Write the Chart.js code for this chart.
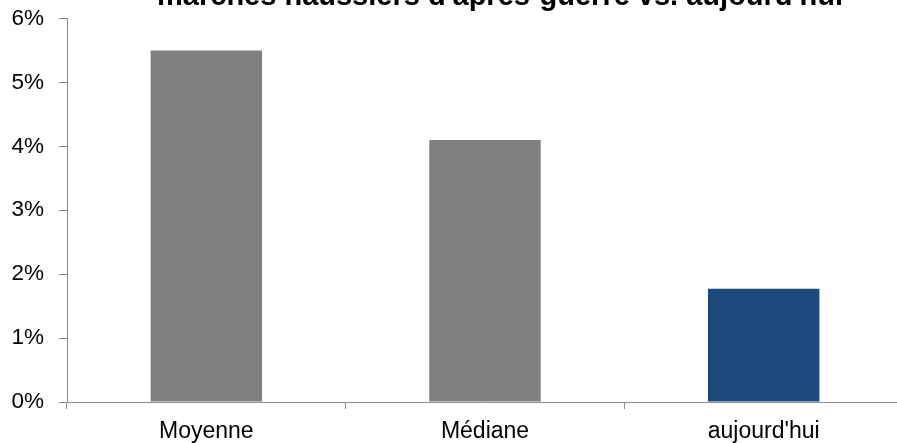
<!DOCTYPE html>
<html>
<head>
<meta charset="utf-8">
<script src="https://cdn.jsdelivr.net/npm/chart.js@4.4.0/dist/chart.umd.min.js"></script>
<style>
body{margin:0;overflow:hidden;background:#fff}
#c{position:absolute;left:0;top:-10px}
</style>
</head>
<body>
<canvas id="c" width="920" height="453"></canvas>
<script>
// rendement moyen (%)
const categories = ["Moyenne", "Médiane", "aujourd'hui"]
const values = [5.5, 4.1, 1.77]
const barColors = ["#808080", "#808080", "#1F497D"]
const titleText = "marchés haussiers d'après-guerre vs. aujourd'hui"

const fontFamily = "'Liberation Sans', Arial, sans-serif"

// title is cropped at the top of the picture, so draw it by hand
const croppedTitle = {
  id: "croppedTitle",
  afterDraw(chart){
    const ctx = chart.ctx
    ctx.save()
    ctx.font = "bold 29px " + fontFamily
    ctx.fillStyle = "#000"
    ctx.textAlign = "center"
    ctx.textBaseline = "alphabetic"
    ctx.fillText(titleText, 500, 15)
    ctx.restore()
  }
}

const ctx = document.getElementById("c").getContext("2d")

new Chart(ctx, {
  type: "bar",
  data: {
    labels: categories,
    datasets: [{
      data: values,
      backgroundColor: barColors,
      borderWidth: 0,
      barPercentage: 0.4,
      categoryPercentage: 1
    }]
  },
  options: {
    responsive: false,
    animation: false,
    layout: { padding: { top: 0, right: 17, bottom: 0, left: 0 } },
    plugins: { legend: { display: false }, tooltip: { enabled: false } },
    scales: {
      x: {
        afterFit(scale){ scale.height = 41 },
        grid: { display: true, drawOnChartArea: false, drawTicks: true, tickLength: 7, color: "#8c8c8c" },
        border: { display: true, color: "#8c8c8c", width: 1 },
        ticks: { color: "#000", padding: 9, font: { family: fontFamily, size: 23 } }
      },
      y: {
        min: 0,
        max: 6,
        afterFit(scale){ scale.width = 67 },
        grid: { display: true, drawOnChartArea: false, drawTicks: true, tickLength: 8, color: "#8c8c8c" },
        border: { display: true, color: "#8c8c8c", width: 1 },
        ticks: {
          stepSize: 1,
          color: "#000",
          padding: 15,
          font: { family: fontFamily, size: 22.5 },
          callback: v => v + "%"
        }
      }
    }
  },
  plugins: [croppedTitle]
})
</script>
</body>
</html>
